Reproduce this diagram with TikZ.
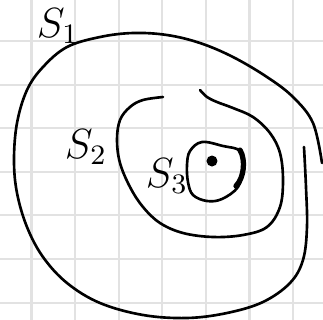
\documentclass[tikz,border=0pt]{standalone}

\begin{document}
\begin{tikzpicture}[x=0.01cm, y=-0.01cm, line cap=round, line join=round]
    % Define grid spacing and offsets
    \def\gridStep{43.6}
    \def\gridX{31.5}
    \def\gridY{41}

    \definecolor{gridColour}{HTML}{E2E2E2}
    \definecolor{inkColour}{HTML}{000000}

    \tikzset{
        ink/.style={draw=inkColour, line width=0.75pt},
        setlabel/.style={inner sep=0pt, font=\large}
    }

    % Fix the picture size
    \useasboundingbox[fill=white] (0,0) rectangle (323,320);

    % Draw grid paper
    \foreach \i in {0,...,6}
        \draw[gridColour, line width=0.6pt] (\gridX+\i*\gridStep,0) -- (\gridX+\i*\gridStep,320);
    \foreach \j in {0,...,6}
        \draw[gridColour, line width=0.6pt] (0,\gridY+\j*\gridStep) -- (323,\gridY+\j*\gridStep);

    % Draw the outer set S1 (open at the right)
    \draw[ink] plot[smooth, tension=0.6] coordinates {
        (322,163) (313,123) (293,97) (267,77) (233,57) (200,43) (167,35)
        (133,33) (100,37) (67,47) (43,67) (27,90) (17,123) (14,160)
        (17,193) (27,227) (43,257) (67,283) (100,303) (143,315) (187,318)
        (227,313) (263,302) (290,283) (303,260) (307,227) (306,187) (304,147)};

    % Draw the middle set S2 (open at the top)
    \draw[ink] plot[smooth, tension=0.6] coordinates {
        (163,97) (143,100) (130,107) (120,120) (117,140) (120,163) (130,187)
        (143,207) (160,223) (183,233) (213,237) (243,235) (267,227) (280,207)
        (283,180) (280,153) (270,133) (253,117) (233,108) (217,102) (207,97) (200,90)};

    % Draw the inner set S3
    \draw[ink] plot[smooth cycle, tension=0.6] coordinates {
        (202,142) (223,146) (240,151) (243,168) (238,187) (222,199)
        (207,201) (193,195) (188,182) (187,165) (190,151)};
    \draw[ink, line width=1.5pt] (240,150) .. controls (246,160) and (244,178) .. (236,186);

    % Draw the point inside S3
    \fill[inkColour] (212,161) circle (5.5);

    % Label the sets
    \node[setlabel] (labelS1) at (58,26) {$S_1$};
    \node[setlabel] (labelS2) at (86,147) {$S_2$};
    \node[setlabel] (labelS3) at (167,176) {$S_3$};

\end{tikzpicture}
\end{document}
